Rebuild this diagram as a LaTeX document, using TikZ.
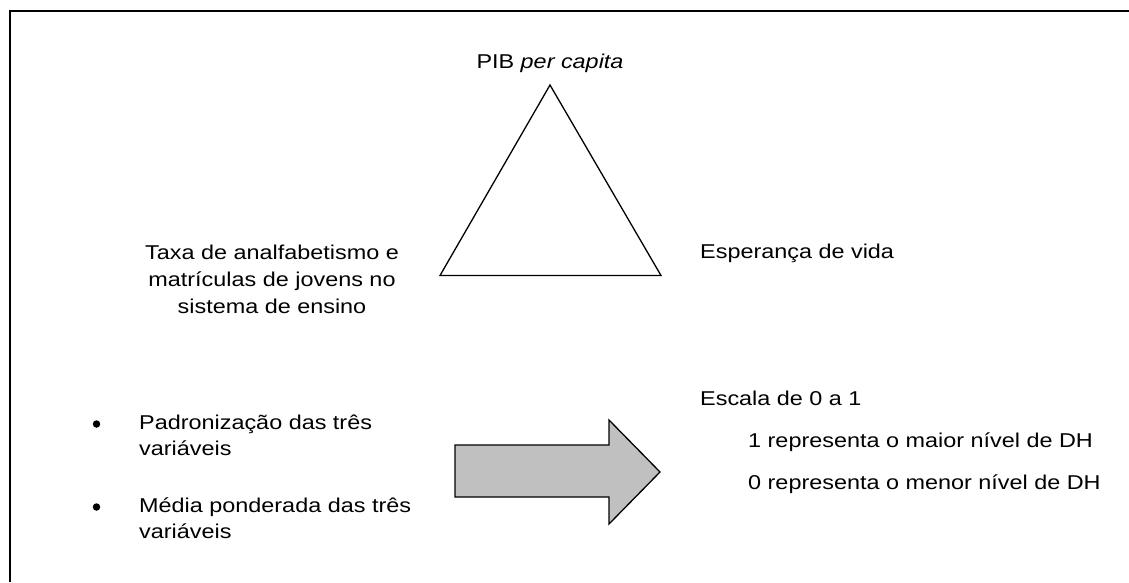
\documentclass[tikz,border=0pt]{standalone}
\usepackage{fontspec}
\setmainfont{Liberation Sans}[FakeStretch=1.17]
\begin{document}
\begin{tikzpicture}[x=1pt,y=-1pt,
  lbl/.style={inner sep=0pt,font=\fontsize{20}{27}\selectfont},
  bul/.style={circle,fill=black,inner sep=0pt,minimum size=7.5pt},
  shp/.style={draw=black,line width=1.3pt,line join=miter}]
\useasboundingbox (0,0) rectangle (1129,582);
\draw[line width=2pt] (9.5,582) -- (9.5,10.5) -- (1129,10.5);
% triangle
\coordinate (apex) at (550,85);
\coordinate (bl) at (440,275.5);
\coordinate (br) at (661,275.5);
\draw[shp] (apex) -- (bl) -- (br) -- cycle;
\node[lbl,anchor=base] (pib) at (550,68) {PIB \textit{per capita}};
\node[lbl,anchor=base,align=center] (edu) at (272,313) {Taxa de analfabetismo e\\matrículas de jovens no\\sistema de ensino};
\node[lbl,anchor=base west] (vida) at (700,258) {Esperança de vida};
% arrow
\draw[shp,fill={rgb,255:red,192;green,192;blue,192}] (455,445) -- (609,445) -- (609,420) -- (660,472) -- (609,524) -- (609,497) -- (455,497) -- cycle;
% bullets
\node[bul] (b1) at (96.5,424) {};
\node[bul] (b2) at (96.5,507) {};
\node[lbl,anchor=base west,align=left,font=\fontsize{20}{26}\selectfont] (pad) at (139,455) {Padronização das três\\variáveis};
\node[lbl,anchor=base west,align=left,font=\fontsize{20}{26}\selectfont] (med) at (139,538) {Média ponderada das três\\variáveis};
% right
\node[lbl,anchor=base west] (esc) at (700,405) {Escala de 0 a 1};
\node[lbl,anchor=base west] (um) at (748,447) {1 representa o maior nível de DH};
\node[lbl,anchor=base west] (zero) at (748,489) {0 representa o menor nível de DH};
\end{tikzpicture}
\end{document}
